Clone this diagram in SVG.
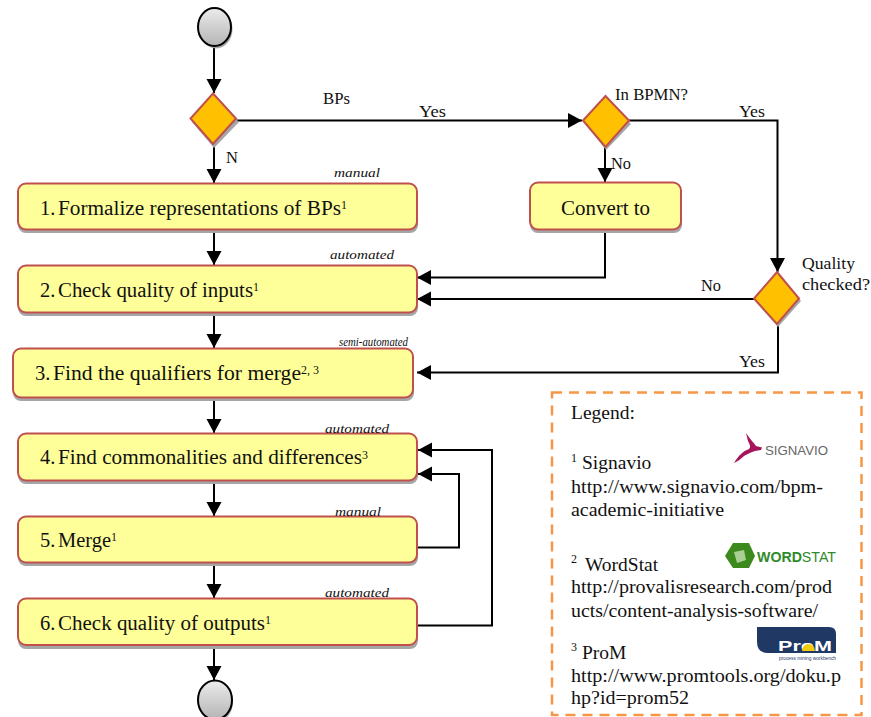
<svg xmlns="http://www.w3.org/2000/svg" width="871" height="717" viewBox="0 0 871 717">
<style>
text{font-family:"Liberation Serif","Times New Roman",serif;fill:#111}
.t{font-size:20.500px}
.sm{font-size:16.500px}
.q{font-size:16.500px}
.tag{font-size:13.500px;font-style:italic}
.leg{font-size:19.500px}
.sup{font-size:12px}
.logo{font-family:"Liberation Sans",Arial,sans-serif}
.box{fill:#ffff99;stroke:#c0504d;stroke-width:2}
.shd{fill:#a6a6a6}
.dia{fill:#ffc000;stroke:#c0504d;stroke-width:2}
.c{fill:none;stroke:#000;stroke-width:2}
.circ{fill:url(#g);stroke:#000;stroke-width:2}
</style>
<defs>
<linearGradient id="g" x1="0" y1="0" x2="0" y2="1"><stop offset="0" stop-color="#ececec"/><stop offset="1" stop-color="#b4b4b4"/></linearGradient>
<marker id="a" markerUnits="userSpaceOnUse" markerWidth="16" markerHeight="16" refX="14" refY="7.500" orient="auto"><path d="M0 0L14 7.500L0 15Z" fill="#000"/></marker>
</defs>
<g id="connectors">
<path class="c" marker-end="url(#a)" d="M214 46V93"/>
<path class="c" marker-end="url(#a)" d="M214 144V183"/>
<path class="c" marker-end="url(#a)" d="M214 229V265"/>
<path class="c" marker-end="url(#a)" d="M214 312V348"/>
<path class="c" marker-end="url(#a)" d="M214 398V433"/>
<path class="c" marker-end="url(#a)" d="M214 480V516"/>
<path class="c" marker-end="url(#a)" d="M214 562V598"/>
<path class="c" marker-end="url(#a)" d="M214 645V680"/>
<path class="c" marker-end="url(#a)" d="M236 120.500H582"/>
<path class="c" marker-end="url(#a)" d="M605 146V182"/>
<path class="c" marker-end="url(#a)" d="M628 120.500H777.500V272"/>
<path class="c" marker-end="url(#a)" d="M605 229V277.500H417"/>
<path class="c" marker-end="url(#a)" d="M755 299H417"/>
<path class="c" marker-end="url(#a)" d="M778 323V372.500H417"/>
<path class="c" marker-end="url(#a)" d="M417 547.500H459V474H418"/>
<path class="c" marker-end="url(#a)" d="M417 625.500H492V450H418"/>
</g>
<g id="start"><ellipse class="shd" cx="216" cy="29" rx="16.500" ry="19.500"/><ellipse class="circ" cx="214.500" cy="27" rx="16.500" ry="19"/></g>
<g id="end"><ellipse class="shd" cx="216" cy="702" rx="17" ry="20"/><ellipse class="circ" cx="215" cy="700" rx="17" ry="19.500"/></g>
<g id="gate1"><path class="shd" d="M214 97L239 122L214 148L192 122Z"/><path class="dia" d="M213 93.500L236 118.500L213 144L190.500 118.500Z"/></g>
<g id="gate2"><path class="shd" d="M606 99L631 124L606 150L585 124Z"/><path class="dia" d="M605.500 96L629 120.500L605.500 147L583 120.500Z"/></g>
<g id="gate3"><path class="shd" d="M778 275L801 301L778 327L755 301Z"/><path class="dia" d="M777 272L799 298.500L777 324L754 298.500Z"/></g>
<g id="step1"><rect class="shd" x="18" y="187" width="400" height="46" rx="8"/><rect class="box" x="18" y="183.500" width="399" height="46" rx="8"/><text class="t" y="215"><tspan x="40">1.</tspan><tspan x="58" textLength="283" lengthAdjust="spacingAndGlyphs">Formalize representations of BPs</tspan></text><text class="sup" x="341" y="209">1</text></g>
<g id="step2"><rect class="shd" x="18" y="269" width="400" height="47" rx="8"/><rect class="box" x="18" y="265.500" width="399" height="47" rx="8"/><text class="t" y="297"><tspan x="40">2.</tspan><tspan x="58" textLength="195" lengthAdjust="spacingAndGlyphs">Check quality of inputs</tspan></text><text class="sup" x="253" y="291">1</text></g>
<g id="step3"><rect class="shd" x="13" y="352" width="401" height="49" rx="8"/><rect class="box" x="13" y="348.500" width="400" height="49" rx="8"/><text class="t" y="380"><tspan x="35">3.</tspan><tspan x="53" textLength="248" lengthAdjust="spacingAndGlyphs">Find the qualifiers for merge</tspan></text><text class="sup" x="301" y="374">2, 3</text></g>
<g id="step4"><rect class="shd" x="18" y="437" width="400" height="47" rx="8"/><rect class="box" x="18" y="433.500" width="399" height="47" rx="8"/><text class="t" y="464"><tspan x="40">4.</tspan><tspan x="58" textLength="304" lengthAdjust="spacingAndGlyphs">Find commonalities and differences</tspan></text><text class="sup" x="362" y="459">3</text></g>
<g id="step5"><rect class="shd" x="18" y="520" width="400" height="46" rx="8"/><rect class="box" x="18" y="516.500" width="399" height="46" rx="8"/><text class="t" y="547"><tspan x="40">5.</tspan><tspan x="58" textLength="53" lengthAdjust="spacingAndGlyphs">Merge</tspan></text><text class="sup" x="111" y="541">1</text></g>
<g id="step6"><rect class="shd" x="18" y="602" width="400" height="47" rx="8"/><rect class="box" x="18" y="598.500" width="399" height="46.500" rx="8"/><text class="t" y="630"><tspan x="40">6.</tspan><tspan x="58" textLength="207" lengthAdjust="spacingAndGlyphs">Check quality of outputs</tspan></text><text class="sup" x="265" y="624">1</text></g>
<g id="convert"><rect class="shd" x="530" y="186" width="152" height="47" rx="8"/><rect class="box" x="530" y="182.500" width="151" height="47" rx="8"/><text class="t" x="561" y="215" textLength="89" lengthAdjust="spacingAndGlyphs">Convert to</text></g>
<g id="labels">
<text class="sm" x="323" y="104" textLength="27" lengthAdjust="spacingAndGlyphs">BPs</text>
<text class="sm" x="419" y="117" textLength="27" lengthAdjust="spacingAndGlyphs">Yes</text>
<text class="sm" x="226" y="163">N</text>
<text class="sm" x="611" y="169" textLength="20" lengthAdjust="spacingAndGlyphs">No</text>
<text class="q" x="615" y="100" textLength="73" lengthAdjust="spacingAndGlyphs">In BPMN?</text>
<text class="sm" x="739" y="117" textLength="26" lengthAdjust="spacingAndGlyphs">Yes</text>
<text class="q" x="802" y="269" textLength="53" lengthAdjust="spacingAndGlyphs">Quality</text>
<text class="q" x="802" y="290" textLength="68" lengthAdjust="spacingAndGlyphs">checked?</text>
<text class="sm" x="701" y="291" textLength="20" lengthAdjust="spacingAndGlyphs">No</text>
<text class="sm" x="739" y="367" textLength="26" lengthAdjust="spacingAndGlyphs">Yes</text>
<text class="tag" x="334" y="177" textLength="46" lengthAdjust="spacingAndGlyphs">manual</text>
<text class="tag" x="330" y="259" textLength="64" lengthAdjust="spacingAndGlyphs">automated</text>
<text class="tag" x="339" y="346" textLength="69" lengthAdjust="spacingAndGlyphs" style="font-size:13px">semi-automated</text>
<text class="tag" x="325" y="433" textLength="64" lengthAdjust="spacingAndGlyphs">automated</text>
<text class="tag" x="335" y="516" textLength="46" lengthAdjust="spacingAndGlyphs">manual</text>
<text class="tag" x="325" y="597" textLength="64" lengthAdjust="spacingAndGlyphs">automated</text>
</g>
<g id="legend">
<path d="M552 392.500H861.500V715H552Z" fill="none" stroke="#f79646" stroke-width="2.500" stroke-dasharray="10 7"/>
<text class="leg" x="571" y="419">Legend:</text>
<text class="sup" x="571" y="462">1</text><text class="leg" x="582" y="469">Signavio</text>
<text class="leg" x="571" y="493" textLength="252" lengthAdjust="spacingAndGlyphs">http://www.signavio.com/bpm-</text>
<text class="leg" x="571" y="516" textLength="153" lengthAdjust="spacingAndGlyphs">academic-initiative</text>
<text class="sup" x="571" y="563">2</text><text class="leg" x="585" y="571">WordStat</text>
<text class="leg" x="571" y="593" textLength="261" lengthAdjust="spacingAndGlyphs">http://provalisresearch.com/prod</text>
<text class="leg" x="571" y="617" textLength="247" lengthAdjust="spacingAndGlyphs">ucts/content-analysis-software/</text>
<text class="sup" x="571" y="651">3</text><text class="leg" x="582" y="659">ProM</text>
<text class="leg" x="571" y="682" textLength="270" lengthAdjust="spacingAndGlyphs">http://www.promtools.org/doku.p</text>
<text class="leg" x="571" y="704" textLength="118" lengthAdjust="spacingAndGlyphs">hp?id=prom52</text>
<path d="M734 463C738 456 743 451 749 449C751 447 750 445 748 441L746 433C750 439 754 443 756 446L762 447.500L761 450L755 451C750 453 747 454 744 456C741 459 738 461 734 463Z" fill="#a6155c"/>
<text class="logo" x="765" y="455" style="font-size:13.500px;fill:#666" textLength="63" lengthAdjust="spacingAndGlyphs">SIGNAVIO</text>
<path d="M733 543H749L755 556L749 568H733L725 556Z" fill="#3c8a1e"/><path d="M734 552L744 550L746 560L737 563Z" fill="#a9cf95"/>
<text class="logo" x="757" y="562" style="font-size:14px;fill:#2f8a2b" textLength="79" lengthAdjust="spacingAndGlyphs"><tspan style="font-weight:bold">WORD</tspan>STAT</text>
<path d="M757 627H829Q836 627 836 634V653H768Q757 653 757 642Z" fill="#1f3864"/>
<text class="logo" x="778" y="651" style="font-size:14px;font-weight:bold;fill:#fff" textLength="54" lengthAdjust="spacingAndGlyphs">ProM</text>
<path d="M802 651A6.500 7 0 0 1 815 651Z" fill="#f2cc0c"/>
<text class="logo" x="779" y="659.500" style="font-size:4.500px;fill:#1f3864" textLength="57" lengthAdjust="spacingAndGlyphs">process mining workbench</text>
</g>
</svg>
